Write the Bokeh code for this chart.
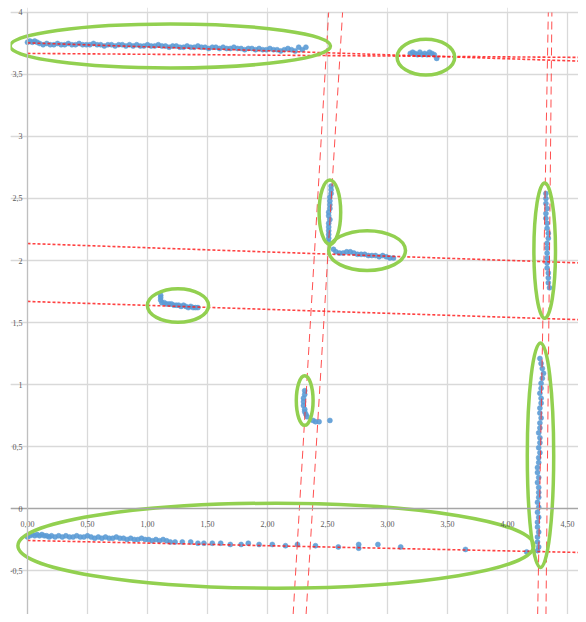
import numpy as np
from bokeh.plotting import figure
from bokeh.models import Range1d, FixedTicker, LinearAxis, Grid
from bokeh.embed import file_html
from bokeh.resources import INLINE

# ---------------- data ----------------
x_ticks = [0.0, 0.5, 1.0, 1.5, 2.0, 2.5, 3.0, 3.5, 4.0, 4.5]
x_tick_labels = ["0,00", "0,50", "1,00", "1,50", "2,00", "2,50", "3,00", "3,50", "4,00", "4,50"]
y_ticks = [-0.5, 0.0, 0.5, 1.0, 1.5, 2.0, 2.5, 3.0, 3.5, 4.0]
y_tick_labels = ["-0,5", "0", "0,5", "1", "1,5", "2", "2,5", "3", "3,5", "4"]

top_left_x = [0.00, 0.02, 0.04, 0.06, 0.08, 0.10, 0.13, 0.16, 0.19, 0.22,
              0.25, 0.28, 0.31, 0.34, 0.37, 0.40, 0.43, 0.46, 0.49, 0.52,
              0.55, 0.58, 0.61, 0.64, 0.67, 0.70, 0.73, 0.76, 0.79, 0.82,
              0.85, 0.88, 0.91, 0.94, 0.97, 1.00, 1.03, 1.06, 1.09, 1.12,
              1.15, 1.18, 1.21, 1.24, 1.27, 1.30, 1.33, 1.36, 1.39, 1.42,
              1.45, 1.48, 1.51, 1.54, 1.57, 1.60, 1.63, 1.66, 1.69, 1.72,
              1.75, 1.78, 1.81, 1.84, 1.87, 1.90, 1.93, 1.96, 1.99, 2.02,
              2.05, 2.08, 2.11, 2.14, 2.17, 2.20, 2.23, 2.26, 2.29, 2.32]
top_left_y = [3.76, 3.77, 3.76, 3.77, 3.76, 3.75, 3.74, 3.75, 3.74, 3.74,
              3.75, 3.74, 3.74, 3.75, 3.74, 3.74, 3.75, 3.74, 3.74, 3.74,
              3.75, 3.74, 3.74, 3.73, 3.74, 3.74, 3.73, 3.74, 3.74, 3.73,
              3.74, 3.73, 3.74, 3.73, 3.73, 3.74, 3.73, 3.73, 3.74, 3.73,
              3.73, 3.72, 3.73, 3.73, 3.72, 3.72, 3.73, 3.72, 3.72, 3.73,
              3.72, 3.72, 3.71, 3.72, 3.72, 3.71, 3.72, 3.71, 3.71, 3.72,
              3.71, 3.71, 3.70, 3.71, 3.71, 3.70, 3.71, 3.70, 3.70, 3.71,
              3.70, 3.70, 3.69, 3.70, 3.71, 3.70, 3.69, 3.72, 3.70, 3.72]

top_right_x = [3.19, 3.21, 3.23, 3.25, 3.27, 3.29, 3.31, 3.33, 3.35, 3.37, 3.39, 3.41]
top_right_y = [3.67, 3.68, 3.67, 3.66, 3.68, 3.66, 3.67, 3.66, 3.68, 3.67, 3.66, 3.63]

bottom_x = [0.00, 0.02, 0.04, 0.06, 0.08, 0.10, 0.12, 0.14, 0.16, 0.18,
            0.20, 0.23, 0.26, 0.29, 0.32, 0.35, 0.38, 0.41, 0.44, 0.47,
            0.50, 0.53, 0.56, 0.59, 0.62, 0.65, 0.68, 0.71, 0.74, 0.77,
            0.80, 0.83, 0.86, 0.89, 0.92, 0.95, 0.98, 1.01, 1.04, 1.07,
            1.10, 1.13, 1.16, 1.19, 1.23, 1.29, 1.36, 1.42, 1.47, 1.54,
            1.61, 1.69, 1.78, 1.84, 1.93, 2.04, 2.15, 2.25, 2.40, 2.59,
            2.76, 2.76, 2.92, 3.11, 3.65, 4.16]
bottom_y = [-0.23, -0.22, -0.21, -0.22, -0.21, -0.22, -0.21, -0.22, -0.22, -0.23,
            -0.22, -0.23, -0.22, -0.23, -0.22, -0.23, -0.23, -0.22, -0.23, -0.23,
            -0.22, -0.23, -0.24, -0.23, -0.24, -0.23, -0.24, -0.24, -0.23, -0.24,
            -0.24, -0.25, -0.24, -0.25, -0.25, -0.24, -0.25, -0.25, -0.26, -0.25,
            -0.26, -0.25, -0.26, -0.27, -0.27, -0.27, -0.27, -0.28, -0.28, -0.28,
            -0.28, -0.29, -0.29, -0.28, -0.29, -0.29, -0.30, -0.29, -0.30, -0.31,
            -0.29, -0.32, -0.29, -0.31, -0.33, -0.35]

right_low_x = [4.27, 4.28, 4.29, 4.30, 4.29, 4.28, 4.28, 4.27, 4.28, 4.28,
               4.27, 4.27, 4.28, 4.27, 4.27, 4.26, 4.27, 4.27, 4.26, 4.27,
               4.26, 4.26, 4.25, 4.25, 4.26, 4.25, 4.26, 4.26, 4.26, 4.25,
               4.26, 4.25, 4.26, 4.25, 4.25, 4.26, 4.25, 4.25, 4.26, 4.25]
right_low_y = [1.21, 1.17, 1.13, 1.09, 1.05, 1.01, 0.97, 0.93, 0.89, 0.85,
               0.81, 0.77, 0.73, 0.69, 0.65, 0.61, 0.57, 0.53, 0.49, 0.45,
               0.41, 0.37, 0.33, 0.29, 0.25, 0.21, 0.17, 0.13, 0.09, 0.05,
               0.01, -0.03, -0.07, -0.11, -0.15, -0.19, -0.23, -0.27, -0.31, -0.34]

right_up_x = [4.32, 4.32, 4.32, 4.33, 4.32, 4.32, 4.33, 4.33, 4.34, 4.34,
              4.33, 4.33, 4.33, 4.33, 4.33, 4.33, 4.34, 4.34, 4.34, 4.35]
right_up_y = [2.54, 2.50, 2.46, 2.42, 2.38, 2.34, 2.30, 2.26, 2.22, 2.18,
              2.14, 2.10, 2.06, 2.02, 1.98, 1.94, 1.90, 1.86, 1.82, 1.78]

mid_vert_x = [2.53, 2.53, 2.53, 2.52, 2.52, 2.52, 2.52, 2.51, 2.51, 2.52, 2.51, 2.51, 2.51, 2.51, 2.51, 2.51]
mid_vert_y = [2.60, 2.57, 2.54, 2.51, 2.48, 2.45, 2.42, 2.39, 2.36, 2.33, 2.30, 2.27, 2.24, 2.21, 2.18, 2.15]

mid_horiz_x = [2.55, 2.57, 2.60, 2.63, 2.66, 2.69, 2.72, 2.75, 2.78, 2.81, 2.84, 2.87, 2.90, 2.93, 2.96, 2.99, 3.02, 3.05]
mid_horiz_y = [2.09, 2.07, 2.06, 2.06, 2.07, 2.07, 2.06, 2.05, 2.05, 2.05, 2.04, 2.04, 2.04, 2.03, 2.04, 2.03, 2.02, 2.02]

left_mid_x = [1.11, 1.11, 1.11, 1.12, 1.14, 1.16, 1.18, 1.20, 1.22, 1.24, 1.26, 1.28, 1.30, 1.32, 1.34, 1.36, 1.38, 1.40, 1.42]
left_mid_y = [1.72, 1.70, 1.68, 1.66, 1.66, 1.65, 1.65, 1.65, 1.64, 1.64, 1.64, 1.63, 1.64, 1.63, 1.62, 1.63, 1.62, 1.62, 1.62]

low_mid_x = [2.31, 2.31, 2.30, 2.30, 2.30, 2.31, 2.31, 2.32, 2.33, 2.38, 2.40, 2.43, 2.52]
low_mid_y = [0.95, 0.92, 0.89, 0.86, 0.83, 0.80, 0.78, 0.76, 0.74, 0.71, 0.70, 0.70, 0.71]

# near-horizontal trend lines (dotted): gradient, intercept
h_grad = [-0.032, -0.007, -0.021, -0.034, -0.032]
h_icpt = [3.755, 3.670, -0.258, 2.137, 1.670]
# near-vertical trend lines (dashed): gradient, intercept
v_grad = [16.4, 15.97, 54.7, 98.4]
v_icpt = [-37.16, -37.93, -233.4, -426.0]

# highlight ellipses: centre x, centre y, width, height (data units)
ell_x = [1.19, 3.32, 2.52, 2.83, 4.31, 1.254, 2.31, 4.275, 2.07]
ell_y = [3.73, 3.64, 2.39, 2.08, 2.08, 1.637, 0.87, 0.43, -0.30]
ell_w = [2.67, 0.48, 0.18, 0.64, 0.18, 0.51, 0.14, 0.22, 4.30]
ell_h = [0.355, 0.29, 0.52, 0.32, 1.09, 0.27, 0.40, 1.81, 0.685]

# ---------------- figure ----------------
X0, X1 = -0.1417, 4.5917
Y0, Y1 = -0.8548, 4.0403
Y_TOP = 4.0

p = figure(width=578, height=614, output_backend="svg", toolbar_location=None,
           x_range=Range1d(X0, X1), y_range=Range1d(Y0, Y1),
           x_axis_location=None, y_axis_location=None,
           min_border_left=10, min_border_right=0, min_border_top=7, min_border_bottom=0)
p.outline_line_color = None
p.background_fill_color = "white"

grid_col = "#D9D9D9"
label_font = "Liberation Sans Narrow"
label_col = "#595959"

xa = LinearAxis(ticker=FixedTicker(ticks=x_ticks), fixed_location=0)
xa.major_label_overrides = dict(zip(x_ticks, x_tick_labels))
xa.axis_line_color = "#A6A6A6"
xa.axis_line_width = 1.5
xa.major_tick_out = 0
xa.major_tick_in = 0
xa.minor_tick_out = 0
xa.minor_tick_in = 0
xa.major_label_standoff = 12
xa.major_label_text_font = label_font
xa.major_label_text_font_size = "8px"
xa.major_label_text_color = label_col
p.add_layout(xa, "below")

ya = LinearAxis(ticker=FixedTicker(ticks=y_ticks), fixed_location=0, bounds=(Y0, Y_TOP))
ya.major_label_overrides = dict(zip(y_ticks, y_tick_labels))
ya.axis_line_color = "#BFBFBF"
ya.axis_line_width = 1.2
ya.major_tick_out = 0
ya.major_tick_in = 0
ya.minor_tick_out = 0
ya.minor_tick_in = 0
ya.major_label_standoff = 5
ya.major_label_text_font = label_font
ya.major_label_text_font_size = "8px"
ya.major_label_text_color = label_col
p.add_layout(ya, "left")

vgrid = Grid(dimension=0, ticker=FixedTicker(ticks=x_ticks), grid_line_color=grid_col, grid_line_width=1.3)
hgrid = Grid(dimension=1, ticker=FixedTicker(ticks=[t for t in y_ticks if t != 0.0]),
             grid_line_color=grid_col, grid_line_width=1.3)
try:
    vgrid.cross_bounds = (Y0, Y_TOP)
except Exception:
    pass
p.add_layout(vgrid, "center")
p.add_layout(hgrid, "center")

blue = "#5B9BD5"
groups = [(top_left_x, top_left_y), (top_right_x, top_right_y), (bottom_x, bottom_y),
          (right_low_x, right_low_y), (right_up_x, right_up_y), (mid_vert_x, mid_vert_y),
          (mid_horiz_x, mid_horiz_y), (left_mid_x, left_mid_y), (low_mid_x, low_mid_y)]
for gx, gy in groups:
    p.scatter(gx, gy, size=5, marker="circle", fill_color=blue, fill_alpha=0.9,
              line_color=blue, line_alpha=0.5)

# trend lines: segments derived from gradient / intercept
for g, b in zip(h_grad, h_icpt):
    xs = np.array([0.0, X1])
    p.line(xs, g * xs + b, line_color="#FF2020", line_width=1.6, line_dash="3 2", line_alpha=0.85)
for g, b in zip(v_grad, v_icpt):
    ys = np.array([Y0, Y_TOP])
    p.line((ys - b) / g, ys, line_color="#FF3030", line_width=1.0, line_dash="8 5", line_alpha=0.85)

p.ellipse(x=ell_x, y=ell_y, width=ell_w, height=ell_h, fill_color=None,
          line_color="#92D050", line_width=3.5)

open("out.html", "w").write(file_html(p, INLINE))
